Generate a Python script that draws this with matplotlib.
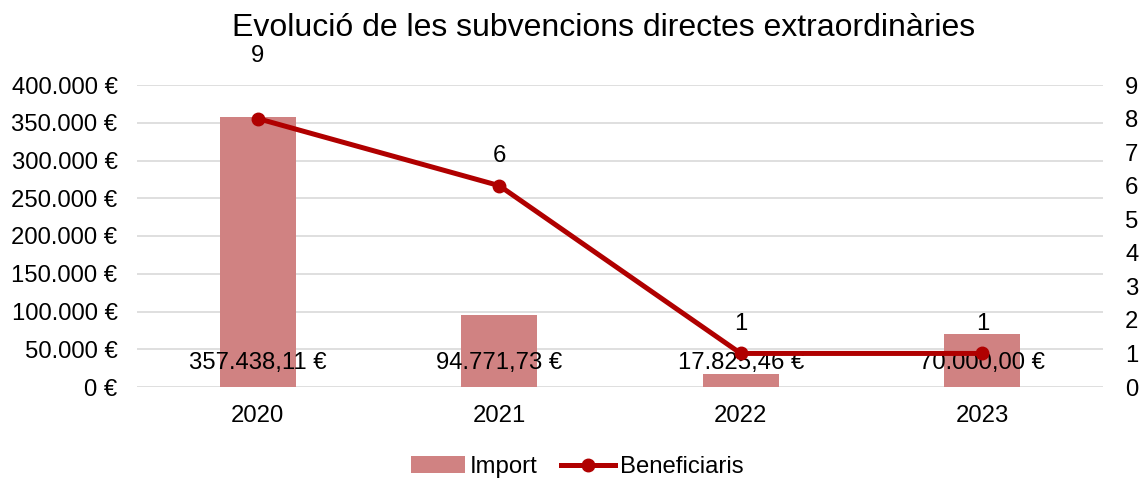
import matplotlib
matplotlib.use("Agg")
import matplotlib.pyplot as plt
from matplotlib.lines import Line2D
from matplotlib.patches import Patch

plt.rcParams['font.family'] = ['Liberation Sans', 'DejaVu Sans']

years = ["2020", "2021", "2022", "2023"]
import_values = [357438.11, 94771.73, 17825.46, 70000.00]
import_labels = ["357.438,11 €", "94.771,73 €", "17.825,46 €", "70.000,00 €"]
beneficiaris = [8, 6, 1, 1]
beneficiaris_labels = ["9", "6", "1", "1"]
left_ticks = [0, 50000, 100000, 150000, 200000, 250000, 300000, 350000, 400000]
left_tick_labels = ["0 €", "50.000 €", "100.000 €", "150.000 €", "200.000 €",
                    "250.000 €", "300.000 €", "350.000 €", "400.000 €"]
right_ticks = list(range(0, 10))

bar_color = "#D08282"
line_color = "#B00000"
grid_color = "#D9D9D9"
fs = 17.2

fig = plt.figure(figsize=(11.42, 4.79), dpi=100)
ax = fig.add_axes([137/1142, 1 - 387/479, (1103-137)/1142, (387-85)/479])
ax2 = ax.twinx()

x = list(range(len(years)))
ax.bar(x, import_values, width=0.315, color=bar_color, zorder=2)
ax.set_ylim(0, 400000)
ax.set_xlim(-0.5, len(years) - 0.5)
ax.set_yticks(left_ticks)
ax.set_yticklabels(left_tick_labels)
ax.set_xticks(x)
ax.set_xticklabels(years)
for yv in left_ticks:
    ax.axhline(yv, color=grid_color, lw=1.2, zorder=0)
for s in ax.spines.values():
    s.set_visible(False)
ax.tick_params(axis='both', length=0, labelsize=fs)
ax.tick_params(axis='y', pad=14)
ax.tick_params(axis='x', pad=13)

for xi, lab in zip(x, import_labels):
    ax.annotate(lab, (xi, 0), xytext=(0, 17), textcoords='offset points',
                ha='center', va='center', fontsize=fs, zorder=5)

ax2.plot(x, beneficiaris, color=line_color, lw=3.6, marker='o', markersize=9,
         zorder=4, solid_capstyle='round')
ax2.set_ylim(0, 9)
ax2.set_yticks(right_ticks)
for s in ax2.spines.values():
    s.set_visible(False)
ax2.tick_params(axis='y', length=0, labelsize=fs, pad=16)
for xi, lab in zip(x, beneficiaris_labels):
    ax2.annotate(lab, (xi, float(lab)), xytext=(0, 21), textcoords='offset points',
                 ha='center', va='center', fontsize=fs)

fig.text(604/1142, 1 - 28/479, "Evolució de les subvencions directes extraordinàries",
         ha='center', va='center', fontsize=23)

handles = [Patch(facecolor=bar_color, edgecolor='none'),
           Line2D([0], [0], color=line_color, lw=3.6, marker='o', markersize=9)]
fig.legend(handles, ["Import", "Beneficiaris"], loc='center',
           bbox_to_anchor=(577/1142, 1 - 467/479), ncol=2, frameon=False,
           fontsize=fs, handlelength=2.25, handletextpad=0.2, columnspacing=1.0)

fig.savefig("out.png", dpi=100)
